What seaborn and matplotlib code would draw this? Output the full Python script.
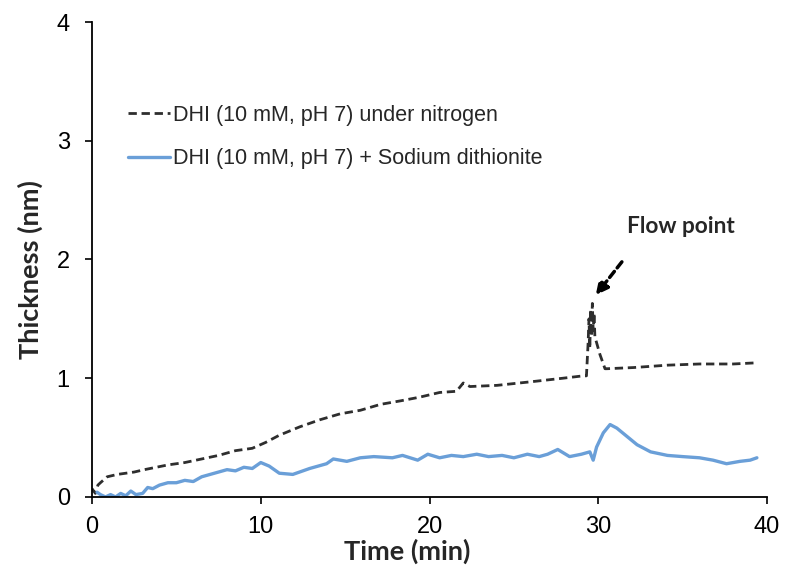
import numpy as np
import pandas as pd
import matplotlib
matplotlib.use('Agg')
import matplotlib.pyplot as plt
import seaborn as sns

# DHI under nitrogen (dashed black)
t_n2 = [0.0, 0.2, 0.35, 0.5, 0.9, 1.5, 2.0, 2.5, 3.1, 3.8, 4.5, 5.5, 6.5, 7.5, 8.5,
        9.5, 10.3, 11.1, 12.3, 13.5, 14.7, 15.9, 17.1, 18.3, 19.4, 20.0, 20.6,
        21.6, 22.0, 22.4, 24.0, 26.0, 27.9, 29.1, 29.3, 29.4, 29.45, 29.5,
        29.55, 29.6, 29.65, 29.7, 29.75, 29.8, 29.9, 30.1, 30.3, 30.4, 30.5,
        32.1, 34.1, 36.0, 38.0, 39.4]
thk_n2 = [0.07, 0.03, 0.10, 0.12, 0.17, 0.19, 0.20, 0.21, 0.23, 0.25, 0.27, 0.29,
          0.32, 0.35, 0.39, 0.41, 0.46, 0.52, 0.59, 0.65, 0.70, 0.73, 0.78,
          0.81, 0.84, 0.86, 0.88, 0.89, 0.96, 0.93, 0.94, 0.97, 1.00, 1.02,
          1.02, 1.30, 1.50, 1.25, 1.58, 1.35, 1.63, 1.40, 1.55, 1.35, 1.30,
          1.20, 1.12, 1.08, 1.08, 1.09, 1.11, 1.12, 1.12, 1.13]

# DHI + sodium dithionite (solid blue)
t_dt = [0.3, 0.5, 0.8, 1.1, 1.4, 1.7, 2.0, 2.3, 2.6, 3.0, 3.3, 3.6, 4.0, 4.5,
        5.0, 5.5, 6.0, 6.5, 7.0, 7.5, 8.0, 8.5, 9.0, 9.5, 10.0, 10.5, 11.1,
        11.9, 12.9, 13.9, 14.3, 15.1, 15.9, 16.7, 17.8, 18.4, 19.3, 19.9,
        20.6, 21.3, 22.0, 22.8, 23.5, 24.3, 25.0, 25.8, 26.5, 27.0, 27.6,
        28.3, 29.0, 29.5, 29.7, 29.9, 30.3, 30.7, 31.1, 31.7, 32.3, 33.1,
        34.1, 35.0, 36.0, 36.8, 37.6, 38.4, 39.0, 39.4]
thk_dt = [0.04, 0.02, 0.00, 0.02, 0.00, 0.03, 0.01, 0.05, 0.02, 0.03, 0.08, 0.07,
          0.10, 0.12, 0.12, 0.14, 0.13, 0.17, 0.19, 0.21, 0.23, 0.22, 0.25,
          0.24, 0.29, 0.26, 0.20, 0.19, 0.24, 0.28, 0.32, 0.30, 0.33, 0.34,
          0.33, 0.35, 0.31, 0.36, 0.33, 0.35, 0.34, 0.36, 0.34, 0.35, 0.33,
          0.36, 0.34, 0.36, 0.40, 0.34, 0.36, 0.38, 0.31, 0.42, 0.54, 0.61,
          0.58, 0.51, 0.44, 0.38, 0.35, 0.34, 0.33, 0.31, 0.28, 0.30, 0.31,
          0.33]

x_ticks = [0, 10, 20, 30, 40]
y_ticks = [0, 1, 2, 3, 4]

lab_n2 = 'DHI (10 mM, pH 7) under nitrogen'
lab_dt = 'DHI (10 mM, pH 7) + Sodium dithionite'

# flow point arrow: tail / tip in data units
arrow_tail = (31.4, 1.98)
arrow_tip = (29.85, 1.70)

df = pd.concat([
    pd.DataFrame({'t': t_n2, 'thk': thk_n2, 'run': lab_n2}),
    pd.DataFrame({'t': t_dt, 'thk': thk_dt, 'run': lab_dt}),
])

sns.set_style('ticks')
plt.rcParams['font.family'] = ['Liberation Sans', 'DejaVu Sans']

fig = plt.figure(figsize=(7.87, 5.76), dpi=100)
ax = fig.add_axes([0.1169, 0.1372, 0.8577, 0.8246])

sns.lineplot(data=df[df.run == lab_n2], x='t', y='thk', ax=ax, color='#2e2e2e',
             lw=2.0, linestyle=(0, (3.0, 1.7)), label=lab_n2, sort=False,
             estimator=None)
sns.lineplot(data=df[df.run == lab_dt], x='t', y='thk', ax=ax, color='#6a9fd8',
             lw=2.4, label=lab_dt, sort=False, estimator=None)

ax.set_xlim(0, 40)
ax.set_ylim(0, 4)
ax.set_xticks(x_ticks)
ax.set_yticks(y_ticks)
ax.tick_params(axis='both', labelsize=17, length=5, width=1.2, direction='out',
               colors='black')
ax.tick_params(axis='y', pad=11)
ax.tick_params(axis='x', pad=9)
for s in ['left', 'bottom']:
    ax.spines[s].set_linewidth(1.3)
    ax.spines[s].set_color('black')
ax.spines['top'].set_visible(False)
ax.spines['right'].set_visible(False)

ax.set_xlabel('Time (min)', fontsize=19.5, fontweight='bold', family='Lato',
              labelpad=0)
ax.set_ylabel('Thickness (nm)', fontsize=19.5, fontweight='bold', family='Lato',
              labelpad=10)
ax.xaxis.label.set_x(0.467)
ax.yaxis.label.set_y(0.478)

ax.legend(loc='upper left', bbox_to_anchor=(0.053, 0.826), frameon=False,
          fontsize=15.5, handlelength=1.95, handletextpad=0.15,
          labelspacing=1.05, borderpad=0, borderaxespad=0)

ax.text(31.7, 2.28, 'Flow point', fontsize=16.3, fontweight='bold',
        family='Lato', ha='left', va='center')
ax.annotate('', xy=arrow_tip, xytext=arrow_tail,
            arrowprops=dict(arrowstyle='-|>', color='black', lw=2.5,
                            linestyle=(0, (2.2, 1.3)), mutation_scale=18,
                            shrinkA=0, shrinkB=0))

fig.savefig('out.png', dpi=100)
